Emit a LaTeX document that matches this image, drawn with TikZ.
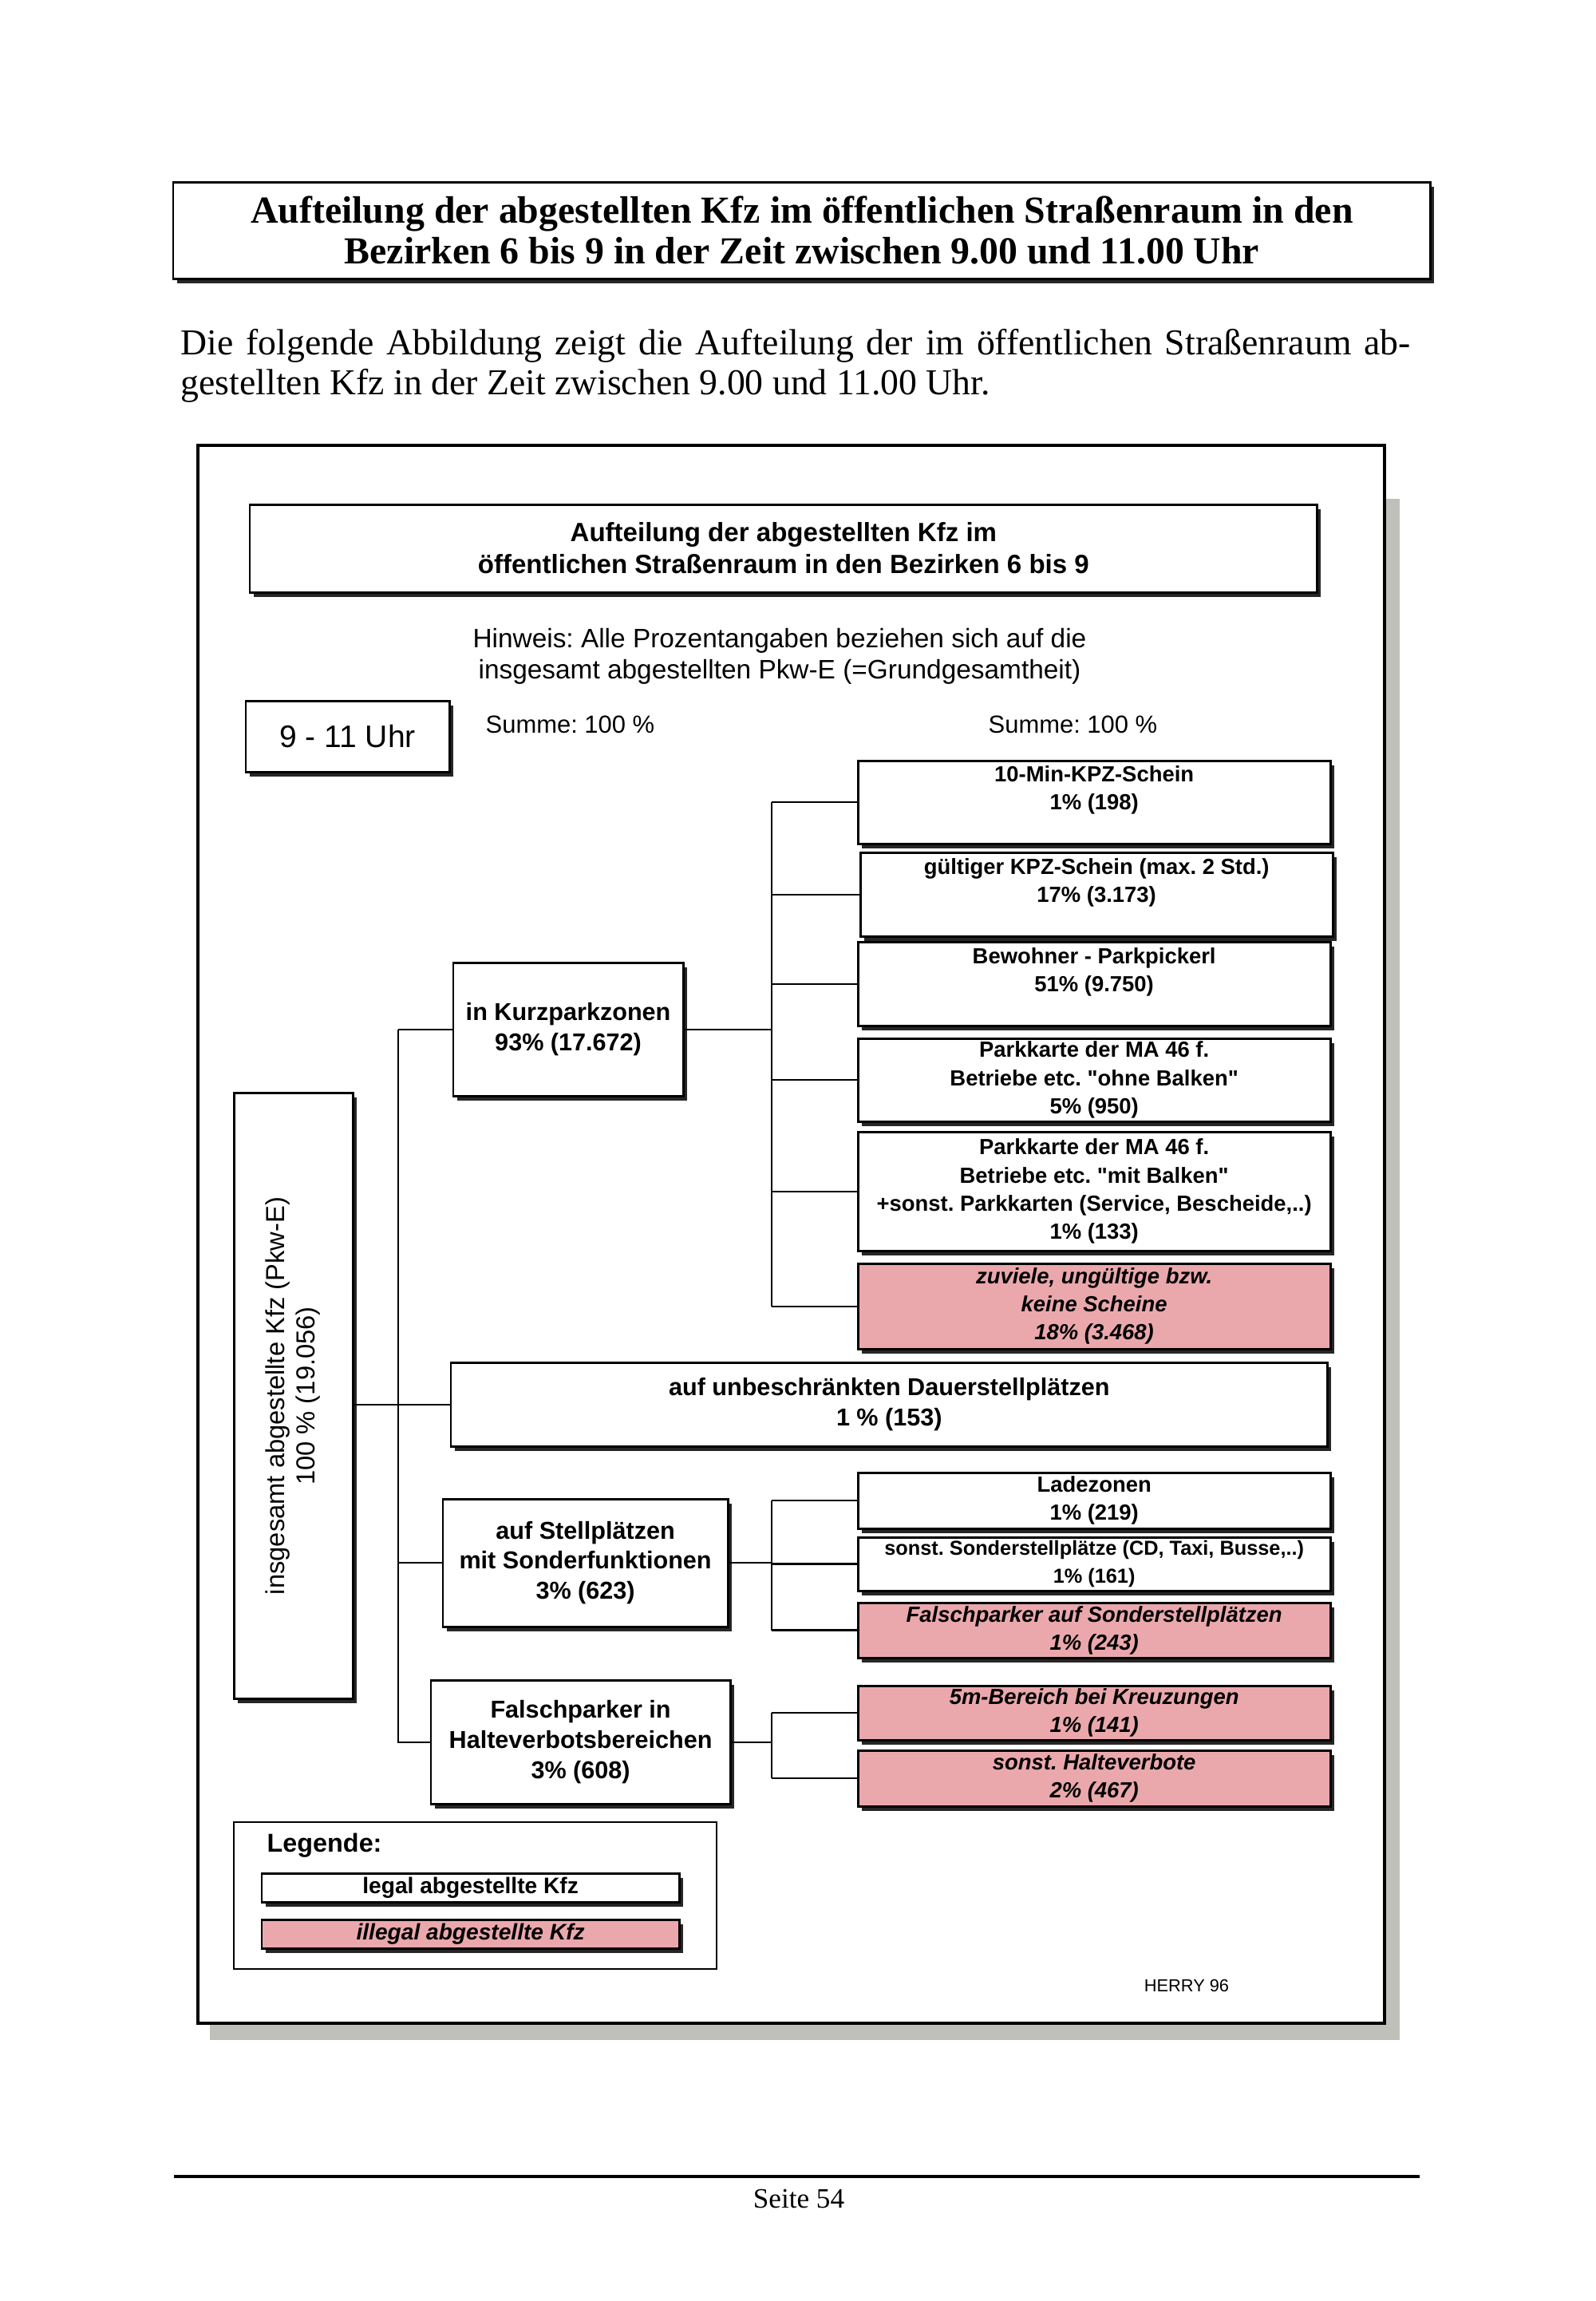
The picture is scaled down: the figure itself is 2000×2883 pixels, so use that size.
\documentclass[tikz,border=0pt]{standalone}
\usepackage{fontspec}
\setmainfont{Liberation Serif}
\setsansfont{Liberation Sans}
\usepackage{tikz}
\usetikzlibrary{shadows}

\definecolor{illpink}{RGB}{234,168,173}
\definecolor{shadegray}{RGB}{192,192,186}
\frenchspacing

\begin{document}
\begin{tikzpicture}[
        x=0.01cm, y=-0.01cm,
        font=\sffamily,
        box/.style={draw, line width=0.85pt, fill=white, align=center, inner sep=1pt, outer sep=0pt,
          drop shadow={shadow xshift=0.045cm, shadow yshift=-0.055cm, opacity=1, fill=black!85}},
        leaf/.style={box, anchor=north west, minimum width=5.92cm, font=\sffamily\bfseries\fontsize{7.8}{10}\selectfont},
        illegal/.style={leaf, fill=illpink, font=\sffamily\bfseries\itshape\fontsize{7.8}{10}\selectfont},
        mid/.style={box, anchor=north west, font=\sffamily\bfseries\fontsize{8.7}{10.8}\selectfont},
        note/.style={inner sep=0pt, align=center, font=\sffamily\fontsize{9.5}{11.1}\selectfont},
        wire/.style={line width=0.6pt}
      ]

      \path[use as bounding box, fill=white] (0,0) rectangle (2000,2883);

      % --- Page head and text ---
      \node[box, anchor=north west, minimum width=15.75cm, minimum height=1.21cm,
        font=\rmfamily\bfseries\fontsize{13.6}{14.6}\selectfont] (pagehead) at (217,228)
        {Aufteilung der abgestellten Kfz im öffentlichen Straßenraum in den\\Bezirken 6 bis 9 in der Zeit zwischen 9.00 und 11.00 Uhr};

      \node[anchor=north west, text width=15.4cm, align=justify, inner sep=0pt,
        font=\rmfamily\fontsize{13}{14.2}\selectfont] (intro) at (226,412)
        {\sloppy Die folgende Abbildung zeigt die Aufteilung der im öffentlichen Straßenraum ab-\linebreak gestellten Kfz in der Zeit zwischen 9.00 und 11.00 Uhr.};

      % --- Frame with shade ---
      \fill[shadegray] (1735,625) rectangle (1754,2556);
      \fill[shadegray] (263,2535) rectangle (1754,2556);
      \draw[line width=1pt, fill=white] (248,558) rectangle (1735,2535);

      % --- Chart head ---
      \node[box, anchor=north west, minimum width=13.37cm, minimum height=1.1cm,
        font=\sffamily\bfseries\fontsize{9.4}{11.4}\selectfont] (charthead) at (313,632)
        {Aufteilung der abgestellten Kfz im\\öffentlichen Straßenraum in den Bezirken 6 bis 9};

      \node[note] (hinweis) at (977,822)
        {Hinweis: Alle Prozentangaben beziehen sich auf die\\insgesamt abgestellten Pkw-E (=Grundgesamtheit)};

      \node[box, anchor=north west, minimum width=2.55cm, minimum height=0.89cm,
        font=\sffamily\fontsize{11.1}{13}\selectfont] (zeit) at (308,878) {9 - 11 Uhr};

      \node[note, anchor=west, font=\sffamily\fontsize{8.8}{10}\selectfont] (sumleft) at (608,908) {Summe: 100 \%};
      \node[note, anchor=west, font=\sffamily\fontsize{8.8}{10}\selectfont] (sumright) at (1238,908) {Summe: 100 \%};

      % --- Total ---
      \node[box, minimum width=1.48cm, minimum height=7.58cm,
        font=\sffamily\fontsize{9.3}{10.6}\selectfont] (total) at (368,1749)
        {\rotatebox{90}{\begin{tabular}{@{}c@{}}insgesamt abgestellte Kfz (Pkw-E)\\100 \% (19.056)\end{tabular}}};

      % --- Middle column ---
      \node[mid, minimum width=2.88cm, minimum height=1.67cm] (kurz) at (568,1206)
        {in Kurzparkzonen\\93\% (17.672)};
      \node[mid, minimum width=10.98cm, minimum height=1.05cm] (dauer) at (565,1707)
        {auf unbeschränkten Dauerstellplätzen\\1 \% (153)};
      \node[mid, minimum width=3.57cm, minimum height=1.6cm] (sonder) at (555,1878)
        {auf Stellplätzen\\mit Sonderfunktionen\\3\% (623)};
      \node[mid, minimum width=3.75cm, minimum height=1.55cm] (halte) at (540,2105)
        {Falschparker in\\Halteverbotsbereichen\\3\% (608)};

      % --- Right column ---
      \node[leaf, minimum height=1.04cm] (tenmin) at (1075,953)
        {10-Min-KPZ-Schein\\1\% (198)\\\mbox{}};
      \node[leaf, minimum height=1.05cm] (kpz) at (1078,1068)
        {gültiger KPZ-Schein (max. 2 Std.)\\17\% (3.173)\\\mbox{}};
      \node[leaf, minimum height=1.05cm] (bewohner) at (1075,1180)
        {Bewohner - Parkpickerl\\51\% (9.750)\\\mbox{}};
      \node[leaf, minimum height=1.04cm] (ohne) at (1075,1301)
        {Parkkarte der MA 46 f.\\Betriebe etc. \textquotedbl ohne Balken\textquotedbl\\5\% (950)};
      \node[leaf, minimum height=1.49cm] (mit) at (1075,1418)
        {Parkkarte der MA 46 f.\\Betriebe etc. \textquotedbl mit Balken\textquotedbl\\+sonst. Parkkarten (Service, Bescheide,..)\\1\% (133)};
      \node[illegal, minimum height=1.07cm] (zuviele) at (1075,1583)
        {zuviele, ungültige bzw.\\keine Scheine\\18\% (3.468)};

      \node[leaf, minimum height=0.7cm] (lade) at (1075,1845)
        {Ladezonen\\1\% (219)};
      \node[leaf, minimum height=0.67cm, font=\sffamily\bfseries\fontsize{7.2}{9.8}\selectfont] (sonstsonder) at (1075,1926)
        {sonst. Sonderstellplätze (CD, Taxi, Busse,..)\\1\% (161)};
      \node[illegal, minimum height=0.69cm] (falschsonder) at (1075,2008)
        {Falschparker auf Sonderstellplätzen\\1\% (243)};

      \node[illegal, minimum height=0.68cm] (kreuz) at (1075,2112)
        {5m-Bereich bei Kreuzungen\\1\% (141)};
      \node[illegal, minimum height=0.7cm] (sonsthalte) at (1075,2193)
        {sonst. Halteverbote\\2\% (467)};

      % --- Legend ---
      \node[draw, line width=0.5pt, anchor=north west, minimum width=6.05cm, minimum height=1.84cm] (legend) at (292,2282) {};
      \node[anchor=west, inner sep=0pt, font=\sffamily\bfseries\fontsize{9.2}{11}\selectfont] (legtitle) at (334,2312) {Legende:};
      \node[leaf, minimum width=5.23cm, minimum height=0.36cm, font=\sffamily\bfseries\fontsize{8}{9}\selectfont] (legal) at (328,2347)
        {legal abgestellte Kfz};
      \node[illegal, minimum width=5.23cm, minimum height=0.36cm, font=\sffamily\bfseries\itshape\fontsize{8}{9}\selectfont] (illegal) at (328,2405)
        {illegal abgestellte Kfz};

      \node[font=\sffamily\fontsize{6.2}{7}\selectfont] (herry) at (1487,2488) {HERRY 96};

      % --- Lines ---
      \draw[wire] (total.east |- dauer.west) -- (dauer.west);
      \draw[wire] (kurz.west) -- ++(-69,0) coordinate (trunk);
      \draw[wire] (trunk) |- (halte.west);
      \draw[wire] (trunk |- sonder.west) -- (sonder.west);

      \draw[wire] (kurz.east) -- ++(111,0) coordinate (kbus);
      \draw[wire] (kbus |- tenmin.west) -- (kbus |- zuviele.west);
      \foreach \n in {tenmin,kpz,bewohner,ohne,mit,zuviele}
        \draw[wire] (kbus |- \n.west) -- (\n.west);

      \draw[wire] (sonder.east) -- ++(55,0) coordinate (sbus);
      \draw[wire] (sbus |- lade.west) -- (sbus |- falschsonder.west);
      \foreach \n in {lade,sonstsonder,falschsonder}
        \draw[wire] (sbus |- \n.west) -- (\n.west);

      \draw[wire] (halte.east) -- ++(52,0) coordinate (hbus);
      \draw[wire] (hbus |- kreuz.west) -- (hbus |- sonsthalte.west);
      \foreach \n in {kreuz,sonsthalte}
        \draw[wire] (hbus |- \n.west) -- (\n.west);

      % --- Page foot ---
      \draw[line width=0.9pt] (218,2727) -- (1779,2727);
      \node[font=\rmfamily\fontsize{10}{12}\selectfont] (seite) at (1001,2755) {Seite 54};

    \end{tikzpicture}
\end{document}
